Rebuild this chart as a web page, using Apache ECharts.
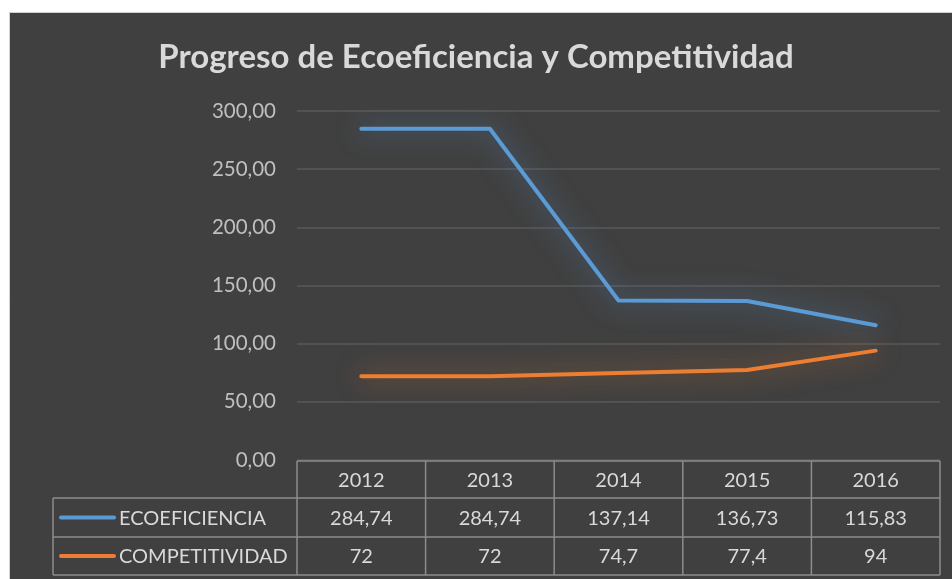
<!DOCTYPE html>
<html>
<head>
<meta charset="utf-8">
<style>
  html, body { margin: 0; padding: 0; background: #ffffff; }
  #chart { width: 952px; height: 579px; }
</style>
<script src="https://cdn.jsdelivr.net/npm/echarts@6/dist/echarts.min.js"></script>
</head>
<body>
<div id="chart"></div>
<script>
// datos del grafico
var years = ["2012", "2013", "2014", "2015", "2016"];
var ecoeficiencia = [284.74, 284.74, 137.14, 136.73, 115.83];
var competitividad = [72, 72, 74.7, 77.4, 94];
var seriesNames = ["ECOEFICIENCIA", "COMPETITIVIDAD"];
var seriesColors = ["#5b9bd5", "#ed7d31"];
var glowColors = ["rgba(91,155,213,0.75)", "rgba(237,125,49,0.7)"];

var FONT = "Lato";
var comma = function (v) { return String(v).replace(".", ","); };

var chart = echarts.init(document.getElementById("chart"));

var gridLeft = 297, gridRight = 940, gridTop = 111, gridBottom = 460;

function lineSeries(name, data, i) {
  return {
    name: name,
    type: "line",
    data: data,
    symbol: "none",
    silent: true,
    lineStyle: {
      color: seriesColors[i],
      width: 4,
      cap: "round",
      join: "round",
      shadowBlur: 26,
      shadowColor: glowColors[i]
    },
    itemStyle: { color: seriesColors[i] }
  };
}

chart.setOption({
  backgroundColor: "#ffffff",
  animation: false,
  title: {
    text: "Progreso de Ecoeficiencia y Competitividad",
    left: "center",
    top: 36,
    textStyle: { color: "#d9d9d9", fontFamily: FONT, fontWeight: "bold", fontSize: 33 }
  },
  grid: { left: gridLeft, right: 952 - gridRight, top: gridTop, bottom: 579 - gridBottom },
  xAxis: {
    type: "category",
    data: years,
    boundaryGap: true,
    axisLine: { show: false },
    axisTick: { show: false },
    axisLabel: { show: false }
  },
  yAxis: {
    type: "value",
    min: 0,
    max: 300,
    interval: 50,
    axisLine: { show: false },
    axisTick: { show: false },
    axisLabel: {
      color: "#bfbfbf",
      fontFamily: FONT,
      fontSize: 20.5,
      margin: 21,
      formatter: function (v) { return v.toFixed(2).replace(".", ","); }
    },
    splitLine: { lineStyle: { color: "#595959", width: 1.5 } }
  },
  series: [
    lineSeries(seriesNames[0], ecoeficiencia, 0),
    lineSeries(seriesNames[1], competitividad, 1)
  ]
});

// tabla de datos bajo el eje
function buildTable() {
  var els = [];
  var lineCol = "#8c8c8c";
  var textCol = "#d9d9d9";
  var colW = (gridRight - gridLeft) / years.length;
  var rowY = [461, 498, 537, 575];
  var legendLeft = 53;
  var rows = [ecoeficiencia, competitividad];

  // fondo oscuro
  els.push({
    type: "rect", z: -10, silent: true,
    shape: { x: 9.5, y: 12.5, width: 950, height: 570 },
    style: { fill: "#404040", stroke: "#d0d0d0", lineWidth: 1 }
  });

  function hline(x1, x2, y) {
    els.push({ type: "line", silent: true, shape: { x1: x1, y1: y, x2: x2, y2: y },
      style: { stroke: lineCol, lineWidth: 1.5 } });
  }
  function vline(x, y1, y2) {
    els.push({ type: "line", silent: true, shape: { x1: x, y1: y1, x2: x, y2: y2 },
      style: { stroke: lineCol, lineWidth: 1.5 } });
  }
  function cellText(str, x, y, align) {
    els.push({ type: "text", silent: true, x: x, y: y,
      style: { text: str, fill: textCol, font: "20px " + FONT, align: align || "center", verticalAlign: "middle" } });
  }

  hline(gridLeft, gridRight, rowY[0]);
  hline(legendLeft, gridRight, rowY[1]);
  hline(legendLeft, gridRight, rowY[2]);
  hline(legendLeft, gridRight, rowY[3]);
  vline(legendLeft, rowY[1], rowY[3]);
  for (var c = 0; c <= years.length; c++) {
    vline(gridLeft + c * colW, rowY[0], rowY[3]);
  }

  years.forEach(function (y, i) {
    var cx = chart.convertToPixel({ xAxisIndex: 0 }, y);
    cellText(y, cx, (rowY[0] + rowY[1]) / 2 + 1);
    rows.forEach(function (r, k) {
      cellText(comma(r[i]), cx, (rowY[k + 1] + rowY[k + 2]) / 2 + 1);
    });
  });

  seriesNames.forEach(function (n, k) {
    var cy = (rowY[k + 1] + rowY[k + 2]) / 2;
    els.push({ type: "line", silent: true, shape: { x1: 61, y1: cy, x2: 114, y2: cy },
      style: { stroke: seriesColors[k], lineWidth: 4, lineCap: "round" } });
    cellText(n, 119, cy + 1, "left");
  });

  return els;
}

chart.setOption({ graphic: { elements: buildTable() } });
</script>
</body>
</html>
